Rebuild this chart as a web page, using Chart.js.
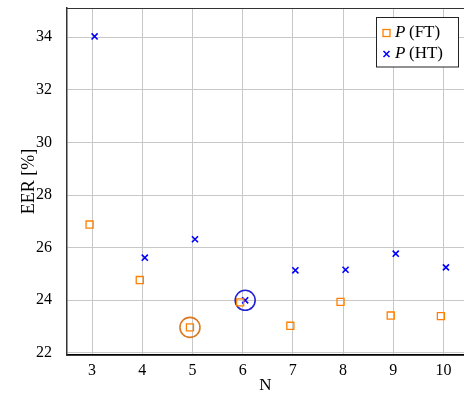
<!DOCTYPE html>
<html>
<head>
<meta charset="utf-8">
<script src="https://cdn.jsdelivr.net/npm/chart.js@4/dist/chart.umd.min.js"></script>
<style>
  html, body { margin: 0; padding: 0; background: #fff; }
  #wrap { width: 464px; height: 399px; }
</style>
</head>
<body>
<div id="wrap"><canvas id="c" width="464" height="399"></canvas></div>
<script>
// ---- data ----
const N = [3, 4, 5, 6, 7, 8, 9, 10];
const eerFT = [26.88, 24.77, 22.97, 23.92, 23.03, 23.94, 23.42, 23.40];
const eerHT = [34.03, 25.62, 26.32, 24.00, 25.14, 25.16, 25.77, 25.25];
const seriesNames = ['FT', 'HT'];
const xTicks = [3, 4, 5, 6, 7, 8, 9, 10];
const yTicks = [22, 24, 26, 28, 30, 32, 34];
const bestFT_N = 5;
const bestHT_N = 6;

const FONT = "'Liberation Serif', 'DejaVu Serif', serif";
const ORANGE = '#ff8000';
const BLUE = '#0000ff';
const SHIFT = 0.05;

const ftPts = N.map((n, i) => ({ x: n - SHIFT, y: eerFT[i] }));
const htPts = N.map((n, i) => ({ x: n + SHIFT, y: eerHT[i] }));
const iFT = N.indexOf(bestFT_N), iHT = N.indexOf(bestHT_N);

function noPad(s) { s.paddingTop = 0; s.paddingBottom = 0; s.paddingLeft = 0; s.paddingRight = 0; }

const framePlugin = {
  id: 'frame',
  afterDatasetsDraw(chart) {
    const { ctx, chartArea: a } = chart;
    ctx.save();
    ctx.strokeStyle = '#333';
    ctx.lineWidth = 1.2;
    ctx.beginPath();
    ctx.moveTo(a.left, a.top + 0.5);
    ctx.lineTo(a.right, a.top + 0.5);
    ctx.stroke();
    ctx.restore();
  },
  afterDraw(chart) {
    const { ctx } = chart;
    ctx.save();
    const bx = 376.5, by = 17.5, bw = 82, bh = 49.5;
    ctx.fillStyle = '#fff';
    ctx.fillRect(bx, by, bw, bh);
    ctx.strokeStyle = '#222';
    ctx.lineWidth = 1;
    ctx.strokeRect(bx, by, bw, bh);
    const rows = [33, 54];
    ctx.strokeStyle = ORANGE;
    ctx.lineWidth = 1.3;
    ctx.strokeRect(383, rows[0] - 3.5, 7, 7);
    ctx.strokeStyle = BLUE;
    ctx.lineWidth = 1.5;
    ctx.beginPath();
    ctx.moveTo(383.5, rows[1] - 3); ctx.lineTo(389.5, rows[1] + 3);
    ctx.moveTo(389.5, rows[1] - 3); ctx.lineTo(383.5, rows[1] + 3);
    ctx.stroke();
    ctx.fillStyle = '#000';
    ctx.textBaseline = 'middle';
    ctx.textAlign = 'left';
    seriesNames.forEach((s, k) => {
      ctx.font = "italic 17px " + FONT;
      ctx.fillText('P', 395, rows[k]);
      ctx.font = "17px " + FONT;
      ctx.fillText('(' + s + ')', 409, rows[k]);
    });
    ctx.restore();
  }
};

new Chart(document.getElementById('c'), {
  type: 'scatter',
  data: {
    datasets: [
      { label: 'P (FT)', data: ftPts, pointStyle: 'rect', radius: 5, borderColor: ORANGE,
        backgroundColor: 'rgba(0,0,0,0)', borderWidth: 1.3 },
      { label: 'P (HT)', data: htPts, pointStyle: 'crossRot', radius: 4.3, borderColor: BLUE,
        backgroundColor: BLUE, borderWidth: 1.6 },
      { label: 'best FT', data: [ftPts[iFT]], pointStyle: 'circle', radius: 10,
        borderColor: '#dd7a22', backgroundColor: 'rgba(0,0,0,0)', borderWidth: 1.6 },
      { label: 'best HT', data: [htPts[iHT]], pointStyle: 'circle', radius: 10,
        borderColor: '#2323d6', backgroundColor: 'rgba(0,0,0,0)', borderWidth: 1.6 }
    ]
  },
  options: {
    responsive: false,
    animation: false,
    layout: { autoPadding: false, padding: { top: 8, right: 0, left: 0, bottom: 0 } },
    plugins: { legend: { display: false }, tooltip: { enabled: false } },
    elements: { point: { hoverRadius: 0 } },
    scales: {
      x: {
        type: 'linear', min: 2.5, max: 10.41,
        afterFit(s) { s.height = 44; noPad(s); },
        afterBuildTicks(s) { s.ticks = xTicks.map(v => ({ value: v })); },
        grid: { color: '#c8c8c8', lineWidth: 1, drawTicks: false },
        border: { display: true, color: '#000', width: 1.8 },
        ticks: { color: '#000', padding: 6, font: { family: FONT, size: 16 },
                 callback: v => String(v), maxRotation: 0 },
        title: { display: true, text: 'N', color: '#000', font: { family: FONT, size: 17 },
                 padding: { top: 0, bottom: 3 } }
      },
      y: {
        type: 'linear', min: 21.92, max: 35.11,
        afterFit(s) { s.width = 67; noPad(s); },
        afterBuildTicks(s) { s.ticks = yTicks.map(v => ({ value: v })); },
        grid: { color: '#c8c8c8', lineWidth: 1, drawTicks: false },
        border: { display: true, color: '#333', width: 1.5 },
        ticks: { color: '#000', padding: 15, font: { family: FONT, size: 16 },
                 callback: v => String(v) },
        title: { display: true, text: 'EER [%]', color: '#000', font: { family: FONT, size: 18 },
                 padding: { top: 18, bottom: 0 } }
      }
    }
  },
  plugins: [framePlugin]
});
</script>
</body>
</html>
